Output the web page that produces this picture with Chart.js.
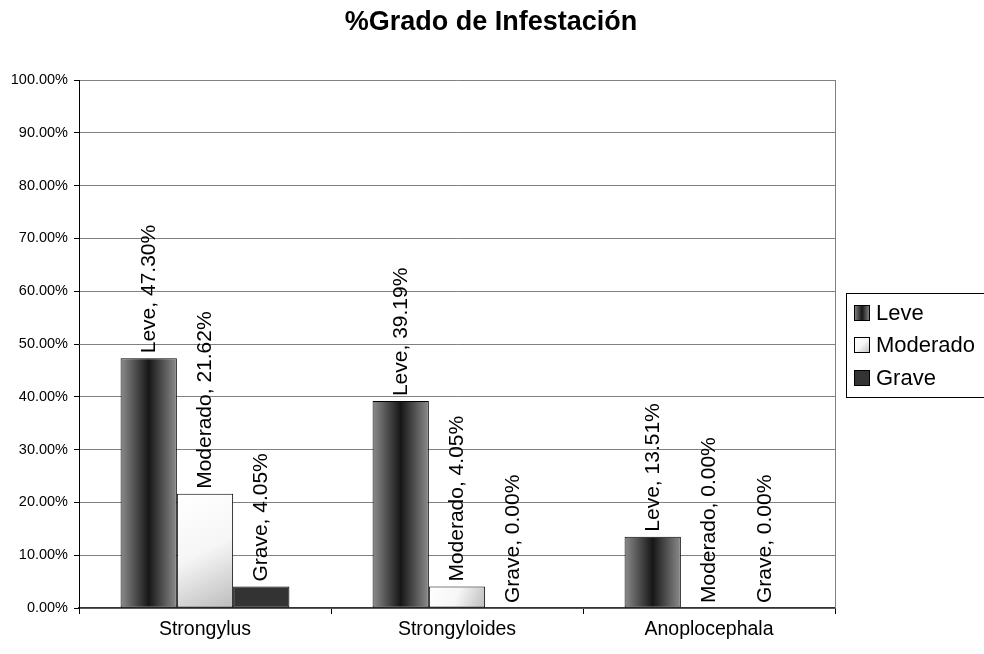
<!DOCTYPE html>
<html>
<head>
<meta charset="utf-8">
<script src="https://cdn.jsdelivr.net/npm/chart.js@4"></script>
<style>
  body { margin: 0; background: #fff; }
  canvas { display: block; }
</style>
</head>
<body>
<canvas id="myChart" width="984" height="654"></canvas>
<script>
// parasites (categories)
const parasites = ['Strongylus', 'Strongyloides', 'Anoplocephala'];
// degree of infestation, as fractions
const leve = [0.4730, 0.3919, 0.1351];
const moderado = [0.2162, 0.0405, 0.0000];
const grave = [0.0405, 0.0000, 0.0000];
const seriesNames = ['Leve', 'Moderado', 'Grave'];
const yTicks = [0, 0.1, 0.2, 0.3, 0.4, 0.5, 0.6, 0.7, 0.8, 0.9, 1.0];
const chartTitle = '%Grado de Infestación';

const catPct = 0.67;
const font = 'Liberation Sans, Arial, sans-serif';

function pct(v) {
    return (v * 100).toFixed(2) + '%';
}

// fill for one series between two x pixels
function makeFill(c, series, x0, x1, y0, y1) {
    if (series === 0) {
        const g = c.createLinearGradient(x0, 0, x1, 0);
        g.addColorStop(0, '#8c8c8c');
        g.addColorStop(0.5, '#161616');
        g.addColorStop(1, '#8c8c8c');
        return g;
    }
    if (series === 1) {
        const g = c.createLinearGradient(x0, y0, x1, y1);
        g.addColorStop(0, '#ffffff');
        g.addColorStop(0.5, '#f6f6f6');
        g.addColorStop(1, '#bcbcbc');
        return g;
    }
    return '#333333';
}

function barFill(ctx) {
    const chart = ctx.chart;
    const xs = chart.scales.x;
    const ys = chart.scales.y;
    if (!xs || !chart.chartArea || ctx.dataIndex === undefined) return '#888';
    const catW = xs.width / parasites.length;
    const groupW = catW * catPct;
    const barW = groupW / 3;
    const left = xs.getPixelForValue(ctx.dataIndex) - groupW / 2 + ctx.datasetIndex * barW;
    const v = ctx.raw || 0;
    return makeFill(chart.ctx, ctx.datasetIndex, left, left + barW, ys.getPixelForValue(v), ys.getPixelForValue(0));
}

const labelPlugin = {
    id: 'barLabels',
    afterDatasetsDraw(chart) {
        const c = chart.ctx;
        c.save();
        c.font = '21px ' + font;
        c.fillStyle = '#000';
        c.textAlign = 'left';
        c.textBaseline = 'middle';
        chart.data.datasets.forEach((ds, i) => {
            chart.getDatasetMeta(i).data.forEach((el, j) => {
                c.save();
                c.translate(el.x, el.y - 5);
                c.rotate(-Math.PI / 2);
                c.fillText(ds.label + ', ' + pct(ds.data[j]), 0, 0);
                c.restore();
            });
        });
        c.restore();
    }
};

const framePlugin = {
    id: 'frame',
    beforeDatasetsDraw(chart) {
        const a = chart.chartArea;
        const c = chart.ctx;
        c.save();
        c.strokeStyle = '#808080';
        c.lineWidth = 1;
        c.beginPath();
        c.moveTo(a.right + 0.5, a.top);
        c.lineTo(a.right + 0.5, a.bottom);
        c.stroke();
        c.restore();
    },
    afterDraw(chart) {
        const c = chart.ctx;
        c.save();
        // title, centred on the whole canvas
        c.font = 'bold 27px ' + font;
        c.fillStyle = '#000';
        c.textAlign = 'center';
        c.textBaseline = 'middle';
        c.fillText(chartTitle, 491, 23);

        // legend box
        c.fillStyle = '#fff';
        c.strokeStyle = '#000';
        c.lineWidth = 1;
        c.fillRect(846.5, 293.5, 150, 104);
        c.strokeRect(846.5, 293.5, 150, 104);
        c.font = '22px ' + font;
        c.textAlign = 'left';
        const rows = [313, 345, 378];
        seriesNames.forEach((name, i) => {
            const x = 854, y = rows[i] - 8, s = 16;
            c.fillStyle = makeFill(c, i, x, x + s, y, y + s);
            c.fillRect(x, y, s, s);
            c.strokeStyle = '#000';
            c.strokeRect(x + 0.5, y + 0.5, s - 1, s - 1);
            c.fillStyle = '#000';
            c.fillText(name, 876, rows[i] + 1);
        });
        c.restore();
    }
};

new Chart(document.getElementById('myChart'), {
    type: 'bar',
    data: {
        labels: parasites,
        datasets: [leve, moderado, grave].map((d, i) => ({
            label: seriesNames[i],
            data: d,
            backgroundColor: barFill,
            borderColor: '#000',
            borderWidth: 1,
            borderSkipped: false,
            categoryPercentage: catPct,
            barPercentage: 1
        }))
    },
    options: {
        responsive: false,
        animation: false,
        layout: { padding: { left: 0, right: 149, top: 80, bottom: 0 } },
        plugins: {
            legend: { display: false },
            tooltip: { enabled: false },
            title: { display: false }
        },
        scales: {
            x: {
                grid: { display: true, offset: true, drawOnChartArea: false, color: '#000', tickLength: 6 },
                border: { color: '#333', width: 1.5 },
                ticks: { color: '#000', font: { family: font, size: 19.5 }, padding: 4, maxRotation: 0 },
                afterFit(scale) { scale.height = 46; }
            },
            y: {
                min: 0,
                max: 1,
                afterBuildTicks(scale) { scale.ticks = yTicks.map(v => ({ value: v })); },
                grid: { color: '#808080', tickLength: 5, tickColor: '#000' },
                border: { color: '#000', width: 1 },
                ticks: { color: '#000', font: { family: font, size: 14.5 }, padding: 6, callback: v => pct(v) },
                afterFit(scale) { scale.width = 79; }
            }
        }
    },
    plugins: [labelPlugin, framePlugin]
});
</script>
</body>
</html>
